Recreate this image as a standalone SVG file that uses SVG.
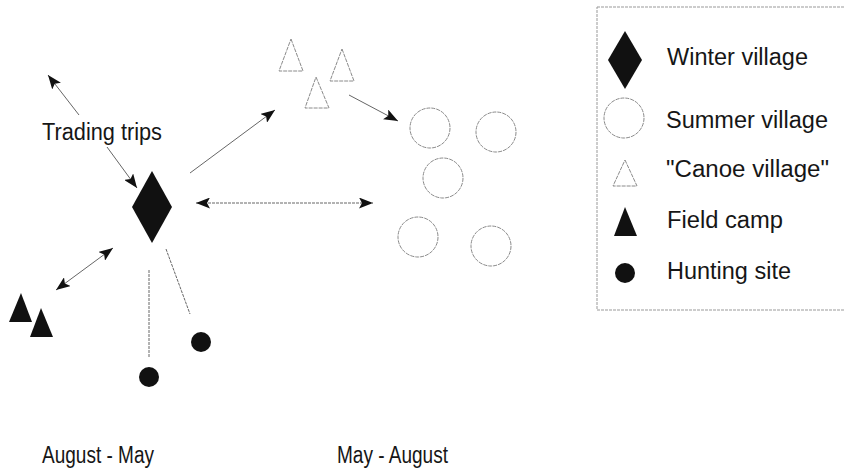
<svg xmlns="http://www.w3.org/2000/svg" width="844" height="469" viewBox="0 0 844 469">
  <style>
    text { font-family: "Liberation Sans", Arial, sans-serif; font-size: 23px; fill: #161616; }
    .solid { fill: #111; stroke: none; }
    .open { fill: #fff; stroke: #8a8a8a; stroke-width: 1; stroke-dasharray: 4 1; }
    .link { stroke: #666; stroke-width: 1; fill: none; }
    .dash { stroke-dasharray: 3 1; }
  </style>
  <defs>
    <marker id="head" viewBox="0 0 14 11" refX="14" refY="5.5" markerWidth="14" markerHeight="11" markerUnits="userSpaceOnUse" orient="auto-start-reverse">
      <path d="M0,0 L14,5.5 L0,11 L3,5.5 z" fill="#111"/>
    </marker>
  </defs>
  <rect width="844" height="469" fill="#fff"/>

  <!-- connectors -->
  <g id="connectors">
    <line class="link" x1="79" y1="115" x2="48" y2="75" marker-end="url(#head)"/>
    <line class="link" x1="107" y1="147" x2="137" y2="188" marker-end="url(#head)"/>
    <line class="link" x1="190" y1="173" x2="275" y2="110" marker-end="url(#head)"/>
    <line class="link dash" x1="196" y1="203" x2="373" y2="203" marker-start="url(#head)" marker-end="url(#head)"/>
    <line class="link" x1="349" y1="95" x2="398" y2="121" marker-end="url(#head)"/>
    <line class="link" x1="113" y1="248" x2="56" y2="290" marker-start="url(#head)" marker-end="url(#head)"/>
    <line class="link dash" x1="149" y1="270" x2="149" y2="357"/>
    <line class="link dash" x1="166" y1="249" x2="190" y2="314"/>
  </g>

  <!-- winter village -->
  <g id="winter-village">
    <polygon class="solid" points="152,171 172,207 152,243 132,207"/>
  </g>
  <g id="trading-trips">
    <text x="42" y="140" textLength="120" lengthAdjust="spacingAndGlyphs">Trading trips</text>
  </g>

  <!-- canoe villages -->
  <g id="canoe-villages">
    <polygon class="open" points="291,39 303,71 279,71"/>
    <polygon class="open" points="342,49 354,81 330,81"/>
    <polygon class="open" points="316,77 329,108 305,108"/>
  </g>

  <!-- summer villages -->
  <g id="summer-villages">
    <circle class="open" cx="430" cy="128" r="20"/>
    <circle class="open" cx="496" cy="132" r="20"/>
    <circle class="open" cx="443" cy="178" r="20"/>
    <circle class="open" cx="418" cy="237" r="20"/>
    <circle class="open" cx="491" cy="246" r="20"/>
  </g>

  <!-- field camps -->
  <g id="field-camps">
    <polygon class="solid" points="21,293 32,322 9,322"/>
    <polygon class="solid" points="41,308 53,337 30,337"/>
  </g>

  <!-- hunting sites -->
  <g id="hunting-sites">
    <circle class="solid" cx="201" cy="342" r="10"/>
    <circle class="solid" cx="149" cy="377" r="10"/>
  </g>

  <!-- season labels -->
  <g id="season-labels">
    <text x="42" y="463" textLength="112" lengthAdjust="spacingAndGlyphs">August - May</text>
    <text x="337" y="463" textLength="111" lengthAdjust="spacingAndGlyphs">May - August</text>
  </g>

  <!-- legend -->
  <g id="legend">
    <rect x="597" y="7" width="260" height="303" fill="none" stroke="#999" stroke-width="1" stroke-dasharray="3 1"/>
    <polygon class="solid" points="625,31 642,60 625,89 608,60"/>
    <text x="667" y="65" textLength="141" lengthAdjust="spacingAndGlyphs">Winter village</text>
    <circle class="open" cx="624" cy="118" r="20"/>
    <text x="666" y="128" textLength="162" lengthAdjust="spacingAndGlyphs">Summer village</text>
    <polygon class="open" points="625,160 637,186 613,186"/>
    <text x="666" y="177" textLength="163" lengthAdjust="spacingAndGlyphs">"Canoe village"</text>
    <polygon class="solid" points="625,207 637,236 614,236"/>
    <text x="667" y="228" textLength="116" lengthAdjust="spacingAndGlyphs">Field camp</text>
    <circle class="solid" cx="625" cy="273" r="10"/>
    <text x="667" y="279" textLength="124" lengthAdjust="spacingAndGlyphs">Hunting site</text>
  </g>
</svg>
